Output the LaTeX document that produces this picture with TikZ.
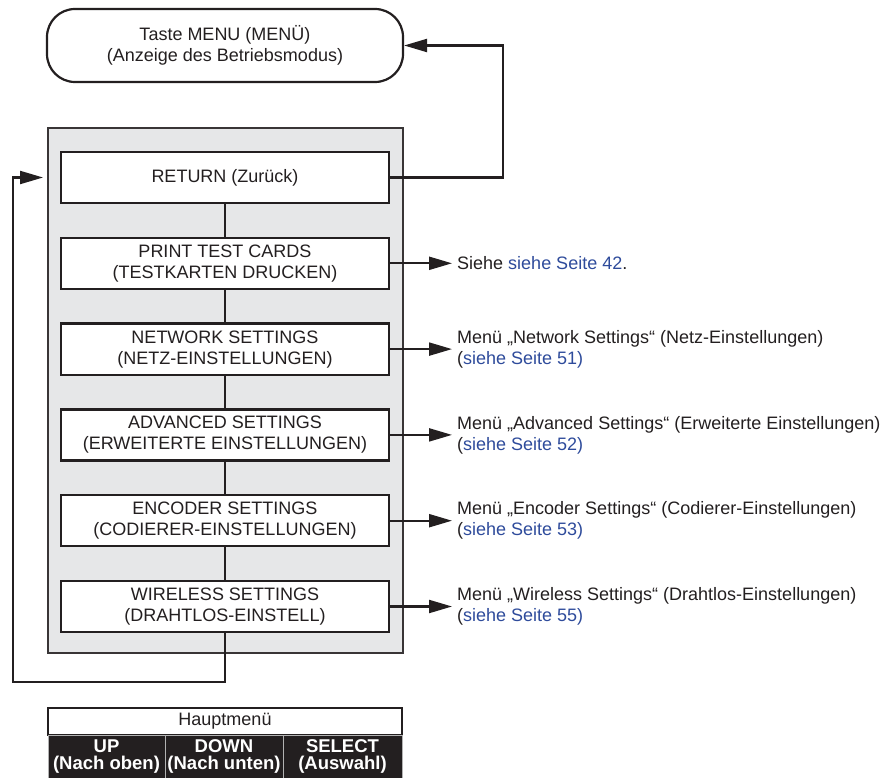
\documentclass[tikz,border=0pt]{standalone}
\usepackage{fontspec}
\setmainfont{Liberation Sans}
\usetikzlibrary{arrows.meta,positioning}
\definecolor{inkgray}{HTML}{231F20}
\definecolor{linkblue}{HTML}{2E4B9B}
\definecolor{panelgray}{HTML}{E6E7E8}
\newcommand{\seite}[1]{\textcolor{linkblue}{siehe Seite #1}}
\tikzset{
  menubox/.style={draw=inkgray,line width=2.2pt,fill=white,minimum width=328pt,minimum height=51pt,align=center,inner sep=0pt},
  arr/.style={-{Triangle[length=23pt,width=13pt]},line width=2.2pt,draw=inkgray},
  wire/.style={line width=2.2pt,draw=inkgray},
  note/.style={anchor=west,align=left,inner sep=0pt,xshift=5pt},
  keycell/.style={fill=inkgray,draw=gray!60,line width=1pt,text=white,font=\fontsize{18.5}{17}\selectfont\bfseries,align=center,minimum height=43pt,inner sep=0pt}
}
\begin{document}
\begin{tikzpicture}[x=1pt,y=-1pt,every node/.append style={text=inkgray,font=\fontsize{18}{21}\selectfont}]
  \useasboundingbox (0,0) rectangle (887,778);
  % Start box
  \node[draw=inkgray,line width=2.2pt,rounded corners=28pt,minimum width=356pt,minimum height=73pt,align=center] (menu) at (225,45.5) {Taste MENU (MENÜ)\\(Anzeige des Betriebsmodus)};
  % Grey panel
  \draw[fill=panelgray,draw=inkgray!90,line width=2pt] (48,128) rectangle (403,653);
  % Menu entries
  \node[menubox] (b0) at (225,177.5) {RETURN (Zurück)};
  \node[menubox] (b1) at (225,263.3) {PRINT TEST CARDS\\(TESTKARTEN DRUCKEN)};
  \node[menubox] (b2) at (225,349.1) {NETWORK SETTINGS\\(NETZ-EINSTELLUNGEN)};
  \node[menubox] (b3) at (225,434.9) {ADVANCED SETTINGS\\(ERWEITERTE EINSTELLUNGEN)};
  \node[menubox] (b4) at (225,520.7) {ENCODER SETTINGS\\(CODIERER-EINSTELLUNGEN)};
  \node[menubox] (b5) at (225,606.5) {WIRELESS SETTINGS\\(DRAHTLOS-EINSTELL)};
  % Links between entries
  \foreach \i/\j in {0/1,1/2,2/3,3/4,4/5}
    \draw[wire] (b\i.south) -- (b\j.north);
  % Back to the start box
  \coordinate (turn) at (503,100);
  \draw[arr] (b0.east) -| (turn) |- (menu.east);
  % Loop from last entry to first
  \coordinate (loopbl) at (13,682);
  \coordinate (loopin) at (43,177.5);
  \draw[arr] (b5.south) |- (loopbl) |- (loopin);
  % Arrows to the references
  \coordinate (t1) at (452,263.3);
  \coordinate (t2) at (452,349.1);
  \coordinate (t3) at (452,434.9);
  \coordinate (t4) at (452,520.7);
  \coordinate (t5) at (452,606.5);
  \foreach \i in {1,...,5}
    \draw[arr] (b\i.east) -- (t\i);
  \node[note] (n1) at (t1) {Siehe \seite{42}.};
  \node[note] (n2) at (t2) {Menü „Network Settings“ (Netz-Einstellungen)\\(\seite{51)}};
  \node[note] (n3) at (t3) {Menü „Advanced Settings“ (Erweiterte Einstellungen)\\(\seite{52)}};
  \node[note] (n4) at (t4) {Menü „Encoder Settings“ (Codierer-Einstellungen)\\(\seite{53)}};
  \node[note] (n5) at (t5) {Menü „Wireless Settings“ (Drahtlos-Einstellungen)\\(\seite{55)}};
  % Key table
  \node[draw=inkgray,line width=2pt,fill=white,minimum width=354pt,minimum height=27pt,inner sep=0pt] (head) at (225,721.5) {Hauptmenü};
  \node[keycell,minimum width=117pt] (up) at (106.5,756.5) {UP\\(Nach oben)};
  \node[keycell,minimum width=118pt] (down) at (224,756.5) {DOWN\\(Nach unten)};
  \node[keycell,minimum width=119pt] (sel) at (342.5,756.5) {SELECT\\(Auswahl)};
\end{tikzpicture}
\end{document}
